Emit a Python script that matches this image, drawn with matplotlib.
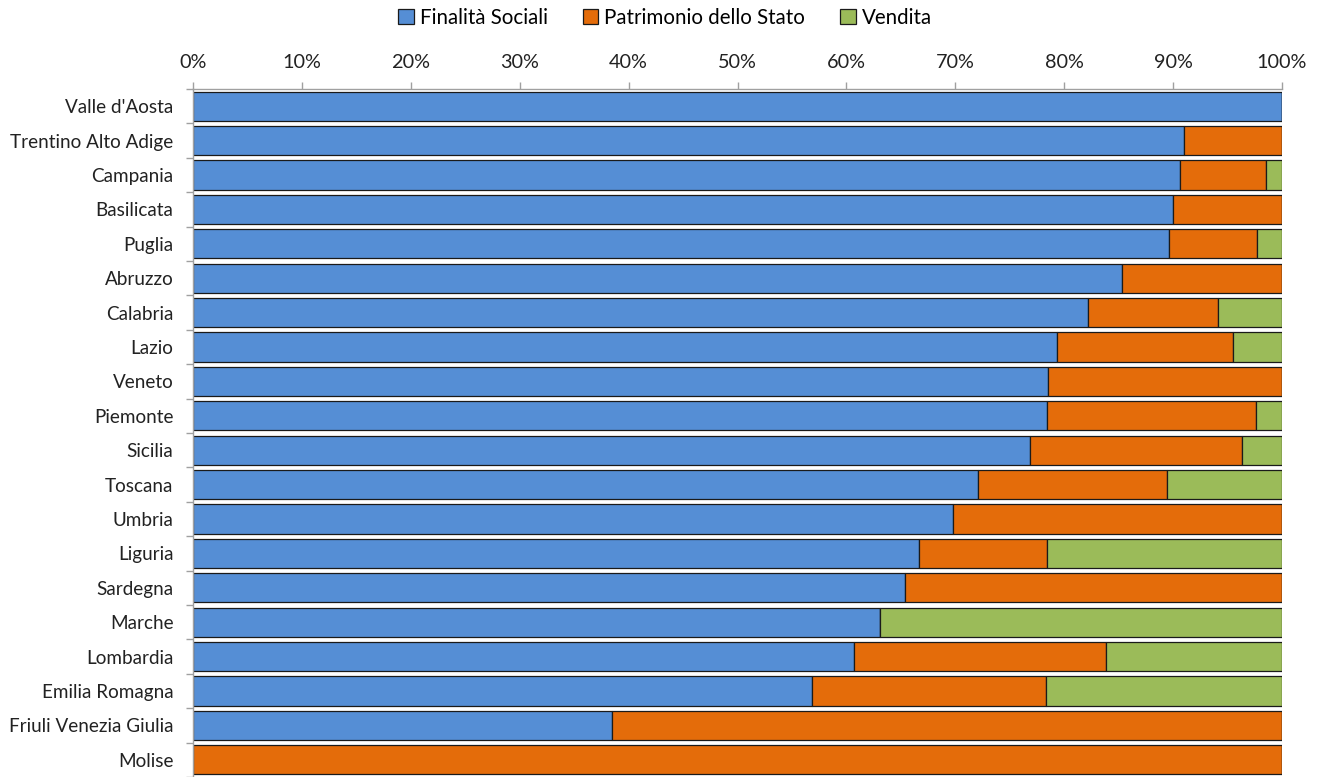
import matplotlib
matplotlib.use("Agg")
import matplotlib.pyplot as plt
from matplotlib.ticker import FuncFormatter, FixedLocator
import numpy as np

plt.rcParams['font.family'] = ['Lato', 'DejaVu Sans']

regions = ["Valle d'Aosta", "Trentino Alto Adige", "Campania", "Basilicata", "Puglia",
           "Abruzzo", "Calabria", "Lazio", "Veneto", "Piemonte", "Sicilia", "Toscana",
           "Umbria", "Liguria", "Sardegna", "Marche", "Lombardia", "Emilia Romagna",
           "Friuli Venezia Giulia", "Molise"]
finalita = [100.0, 91.0, 90.6, 90.0, 89.6, 85.3, 82.2, 79.3, 78.5, 78.4, 76.9, 72.1,
            69.8, 66.7, 65.4, 63.1, 60.7, 56.8, 38.5, 0.0]
patrimonio = [0.0, 9.0, 7.9, 10.0, 8.1, 14.7, 11.9, 16.2, 21.5, 19.2, 19.4, 17.3,
              30.2, 11.7, 34.6, 0.0, 23.1, 21.5, 61.5, 100.0]
vendita = [0.0, 0.0, 1.5, 0.0, 2.3, 0.0, 5.9, 4.5, 0.0, 2.4, 3.7, 10.6,
           0.0, 21.6, 0.0, 36.9, 16.2, 21.7, 0.0, 0.0]
series_names = ["Finalità Sociali", "Patrimonio dello Stato", "Vendita"]
colors = ["#558ED5", "#E46C0A", "#9BBB59"]
xticks = [0, 10, 20, 30, 40, 50, 60, 70, 80, 90, 100]

fig = plt.figure(figsize=(13.2, 7.77), dpi=100)
ax = fig.add_axes([193/1320, 0/777, (1282-193)/1320, (777-89)/777])

y = np.arange(len(regions))
left = np.zeros(len(regions))
for vals, name, col in zip([finalita, patrimonio, vendita], series_names, colors):
    v = np.array(vals)
    ax.barh(y, v, left=left, height=0.85, color=col, edgecolor="#1a1a1a",
            linewidth=0.9, label=name)
    left = left + v

ax.set_xlim(0, 100)
ax.set_ylim(len(regions) - 0.5, -0.5)
ax.xaxis.tick_top()
ax.xaxis.set_major_locator(FixedLocator(xticks))
ax.xaxis.set_major_formatter(FuncFormatter(lambda v, p: f"{int(v)}%"))
ax.set_yticks(y)
ax.set_yticklabels(regions)
ax.set_yticks(np.arange(len(regions) + 1) - 0.5, minor=True)
ax.tick_params(axis='y', which='major', length=0, pad=14, labelsize=13.6, labelcolor="#222222")
ax.tick_params(axis='y', which='minor', length=5, color="#A0A0A0", width=1)
ax.tick_params(axis='x', which='major', length=5, color="#A0A0A0", width=1, pad=8,
               labelsize=14.3, labelcolor="#222222")
for s in ["right", "bottom"]:
    ax.spines[s].set_visible(False)
for s in ["top", "left"]:
    ax.spines[s].set_color("#A0A0A0")
    ax.spines[s].set_linewidth(1)

handles, labels = ax.get_legend_handles_labels()
fig.legend(handles, labels, loc="center", bbox_to_anchor=(665/1320, 1 - 18/777), ncol=3,
           frameon=False, fontsize=14.8, handlelength=0.75, handleheight=0.75,
           handletextpad=0.3, columnspacing=1.7, borderaxespad=0)

fig.savefig("out.png", dpi=100)
